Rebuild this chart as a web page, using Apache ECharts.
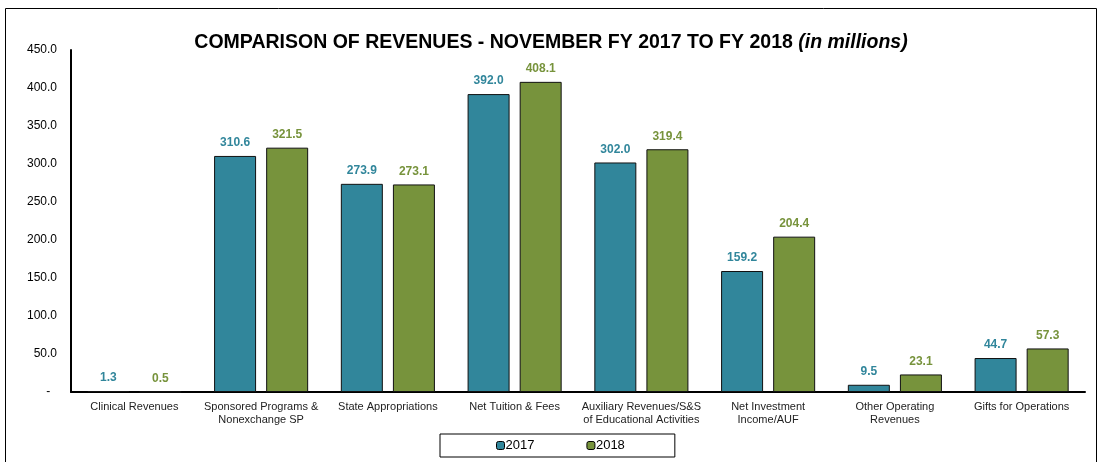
<!DOCTYPE html>
<html>
<head>
<meta charset="utf-8">
<script src="https://cdn.jsdelivr.net/npm/echarts@6/dist/echarts.min.js"></script>
<style>
  html, body { margin: 0; padding: 0; background: #fff; }
  #main { width: 1102px; height: 462px; }
</style>
</head>
<body>
<div id="main"></div>
<script>
var categories = ['Clinical Revenues', 'Sponsored Programs &\nNonexchange SP', 'State Appropriations',
    'Net Tuition & Fees', 'Auxiliary Revenues/S&S\nof Educational Activities', 'Net Investment\nIncome/AUF',
    'Other Operating\nRevenues', 'Gifts for Operations'];
var fy2017 = [1.3, 310.6, 273.9, 392.0, 302.0, 159.2, 9.5, 44.7];
var fy2018 = [0.5, 321.5, 273.1, 408.1, 319.4, 204.4, 23.1, 57.3];

var myChart = echarts.init(document.getElementById('main'));
var font = 'Liberation Sans, Arial, sans-serif';

function labelFor(color) {
    return {
        show: true,
        position: 'top',
        distance: 7,
        color: color,
        fontWeight: 'bold',
        fontSize: 12,
        fontFamily: font,
        formatter: function (p) { return p.value.toFixed(1); }
    };
}

var option = {
    animation: false,
    textStyle: { fontFamily: font },
    graphic: [{
        type: 'rect',
        shape: { x: 5.5, y: 8.5, width: 1091, height: 470 },
        style: { fill: 'none', stroke: '#000', lineWidth: 1 }
    }],
    title: {
        left: 'center',
        top: 28,
        text: '{b|COMPARISON OF REVENUES - NOVEMBER FY 2017 TO FY 2018 }{i|(in millions)}',
        textStyle: {
            rich: {
                b: { fontSize: 19.5, fontWeight: 'bold', color: '#000', fontFamily: font },
                i: { fontSize: 19.5, fontWeight: 'bold', fontStyle: 'italic', color: '#000', fontFamily: font }
            }
        }
    },
    legend: {
        bottom: 5,
        left: 440,
        itemGap: 52,
        padding: [5, 50, 5, 56],
        borderColor: '#000',
        borderWidth: 1,
        itemWidth: 8,
        itemHeight: 8,
        itemStyle: { borderColor: '#000', borderWidth: 1 },
        textStyle: { fontSize: 13, color: '#000', padding: [0, 0, 0, -4] },
        data: ['2017', '2018']
    },
    grid: { left: 71, right: 17, top: 50, bottom: 70 },
    xAxis: {
        type: 'category',
        data: categories,
        axisLine: { lineStyle: { color: '#000', width: 2 } },
        axisTick: { show: false },
        axisLabel: { color: '#222', fontSize: 11, interval: 0, margin: 8, lineHeight: 13 }
    },
    yAxis: {
        type: 'value',
        min: 0,
        max: 450,
        interval: 50,
        splitLine: { show: false },
        axisLine: { show: true, lineStyle: { color: '#000', width: 2 } },
        axisTick: { show: false },
        axisLabel: {
            color: '#000',
            fontSize: 12,
            margin: 14,
            formatter: function (v) { return v === 0 ? '-  ' : v.toFixed(1); }
        }
    },
    series: [{
        name: '2017',
        type: 'bar',
        data: fy2017,
        barWidth: 42,
        barGap: '24%',
        itemStyle: { color: '#31869b', borderColor: '#111', borderWidth: 1 },
        label: labelFor('#31869b')
    }, {
        name: '2018',
        type: 'bar',
        data: fy2018,
        barWidth: 42,
        itemStyle: { color: '#77933c', borderColor: '#111', borderWidth: 1 },
        label: labelFor('#77933c')
    }]
};
myChart.setOption(option);
</script>
</body>
</html>
